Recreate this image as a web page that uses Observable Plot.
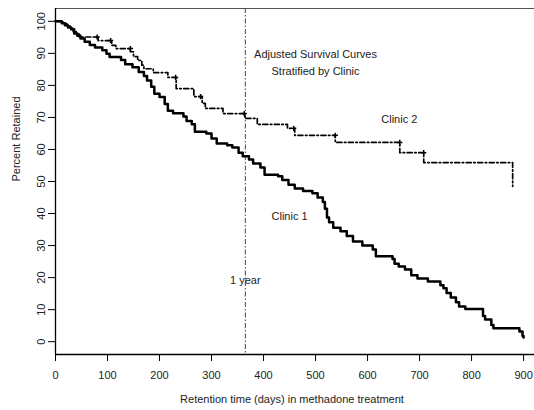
<!DOCTYPE html>
<html>
<head>
<meta charset="utf-8">
<script src="https://cdn.jsdelivr.net/npm/d3@7"></script>
<script src="https://cdn.jsdelivr.net/npm/@observablehq/plot@0.6"></script>
<style>
  html, body { margin: 0; padding: 0; background: #fff; }
  #chart svg { display: block; font-family: "Liberation Sans", Arial, sans-serif; }
</style>
</head>
<body>
<div id="chart"></div>
<script>
// Clinic 1 (solid) step points: day where curve drops, value after drop
const clinic1Days = [0, 12, 18, 24, 30, 36, 42, 48, 56, 66, 76, 90, 98, 104, 126, 134, 148, 160, 170, 176, 184, 190, 200, 210, 216, 226, 246, 252, 262, 268, 290, 300, 310, 330, 340, 352, 360, 372, 380, 394, 402, 428, 436, 448, 460, 476, 494, 504, 514, 518, 522, 526, 534, 548, 560, 572, 590, 610, 616, 648, 652, 660, 672, 684, 696, 716, 740, 746, 752, 760, 770, 776, 788, 822, 826, 838, 842, 892, 898, 900];
const clinic1Pct  = [100, 99.4, 98.8, 98.1, 97.5, 96.2, 95.5, 94.6, 93.6, 92.6, 91.8, 91.0, 89.9, 88.9, 87.9, 86.6, 85.7, 84.2, 82.9, 81.5, 79.6, 77.4, 76.4, 74.2, 72.1, 71.3, 70.3, 68.9, 67.9, 65.5, 65.0, 63.4, 61.9, 61.3, 60.6, 59.0, 57.9, 56.9, 55.6, 54.4, 52.1, 51.6, 50.5, 49.0, 47.8, 47.0, 46.3, 45.0, 43.6, 41.5, 38.8, 37.3, 35.6, 34.5, 33.0, 31.3, 30.0, 28.8, 26.7, 25.8, 24.3, 23.5, 22.5, 20.7, 19.7, 18.8, 17.6, 16.7, 15.2, 13.8, 12.3, 11.0, 10.2, 8.0, 6.9, 5.2, 4.2, 3.2, 1.8, 1.3];

// Clinic 2 (dot-dash) step points
const clinic2Days = [0, 14, 22, 28, 34, 40, 46, 82, 108, 116, 144, 150, 158, 166, 170, 188, 216, 232, 266, 282, 288, 322, 364, 388, 446, 460, 538, 662, 708, 879];
const clinic2Pct  = [100, 99.3, 98.6, 97.8, 96.8, 96.0, 95.1, 94.0, 92.5, 91.5, 90.5, 89.0, 87.8, 86.3, 85.2, 84.0, 82.5, 79.0, 76.5, 74.4, 72.8, 71.2, 69.7, 67.8, 66.6, 64.4, 62.2, 59.0, 55.9, 48.5];

// Clinic 2 censoring marks
const censorDays = [80, 106, 144, 231, 279, 363, 458, 538, 662, 708];
const censorPct  = [95.1, 94.0, 91.5, 82.5, 76.5, 71.2, 66.6, 64.4, 62.2, 59.0];

const xTicks = [0, 100, 200, 300, 400, 500, 600, 700, 800, 900];
const yTicks = [0, 10, 20, 30, 40, 50, 60, 70, 80, 90, 100];
const xDomain = [0, 921];
const yDomain = [-4, 104];
const oneYear = 365;

const titleLines = ["Adjusted Survival Curves", "Stratified by Clinic"];
const titleX = 500, titleY = [89.7, 84.4];
const labels = [
  {text: "Clinic 2", x: 661, y: 69.4},
  {text: "Clinic 1", x: 450, y: 39},
  {text: "1 year", x: 365, y: 19}
];
const xTitle = "Retention time (days) in methadone treatment";
const yTitle = "Percent Retained";

const c1 = clinic1Days.map((d, i) => ({day: d, pct: clinic1Pct[i]}));
const c2 = clinic2Days.map((d, i) => ({day: d, pct: clinic2Pct[i]}));
const cens = censorDays.map((d, i) => ({day: d, pct: censorPct[i]}));
const titles = titleLines.map((t, i) => ({text: t, x: titleX, y: titleY[i]}));

const ink = "#222";

const chart = Plot.plot({
  width: 534,
  height: 410,
  marginLeft: 55,
  marginRight: 0,
  marginTop: 8,
  marginBottom: 56,
  style: {fontFamily: "'Liberation Sans', Arial, sans-serif", fontSize: "11px", color: ink, background: "#fff"},
  x: {domain: xDomain},
  y: {domain: yDomain},
  marks: [
    Plot.ruleY([yDomain[1]], {stroke: "#555", strokeWidth: 1}),
    Plot.ruleX([xDomain[0]], {stroke: "#000", strokeWidth: 1.3}),
    Plot.ruleY([yDomain[0]], {stroke: "#000", strokeWidth: 1.6}),
    Plot.ruleX([oneYear], {stroke: "#444", strokeWidth: 1, strokeDasharray: "5,2,1.5,2"}),
    Plot.axisX({ticks: xTicks, tickSize: 7, tickPadding: 10, tickFormat: d => String(d), label: null, fill: ink, stroke: "#000"}),
    Plot.axisY({ticks: yTicks, tickSize: 7, tickPadding: 4, tickRotate: -90, tickFormat: d => String(d), label: null, fill: ink, stroke: "#000"}),
    Plot.line(c2, {x: "day", y: "pct", curve: "step-after", stroke: "#000", strokeWidth: 1.7, strokeDasharray: "5,2.5,1.5,2.5"}),
    Plot.dot(cens, {x: "day", y: "pct", symbol: "plus", r: 1.8, stroke: "#000", strokeWidth: 1.5}),
    Plot.line(c1, {x: "day", y: "pct", curve: "step-after", stroke: "#000", strokeWidth: 2.5}),
    Plot.text(titles, {x: "x", y: "y", text: "text", fill: ink, fontSize: 11}),
    Plot.text(labels, {x: "x", y: "y", text: "text", fill: ink, fontSize: 11}),
    Plot.text([xTitle], {frameAnchor: "bottom", dy: 48, dx: -3, fill: ink, fontSize: 11}),
    Plot.text([yTitle], {frameAnchor: "left", dx: -43, rotate: -90, lineAnchor: "top", fill: ink, fontSize: 11})
  ]
});
document.getElementById("chart").appendChild(chart);
</script>
</body>
</html>
